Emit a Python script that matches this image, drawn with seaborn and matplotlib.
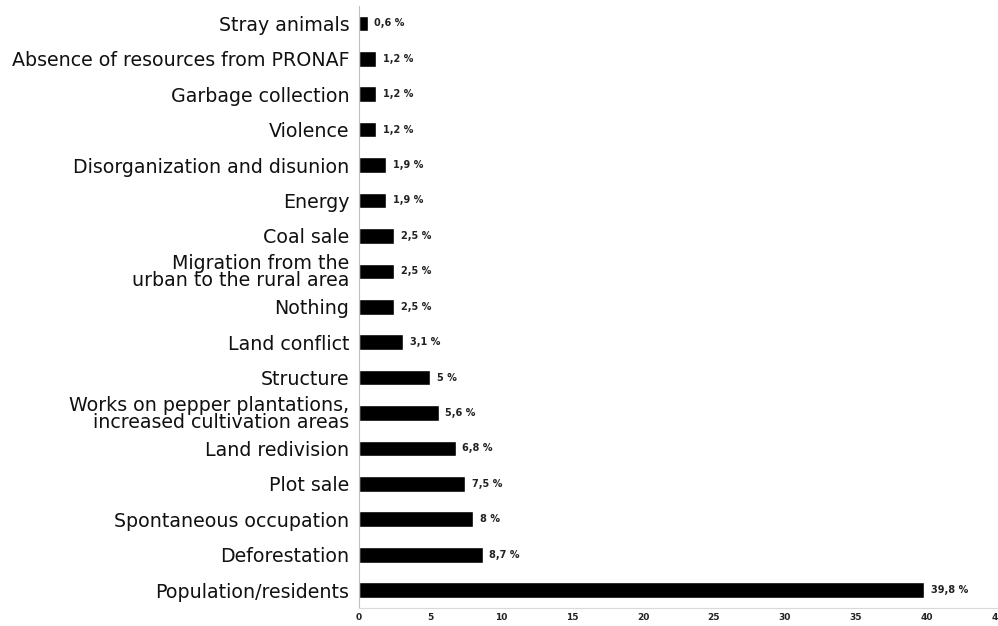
import matplotlib
matplotlib.use("Agg")
import matplotlib.pyplot as plt
import pandas as pd
import seaborn as sns

categorias = [
    "Stray animals",
    "Absence of resources from PRONAF",
    "Garbage collection",
    "Violence",
    "Disorganization and disunion",
    "Energy",
    "Coal sale",
    "Migration from the\nurban to the rural area",
    "Nothing",
    "Land conflict",
    "Structure",
    "Works on pepper plantations,\nincreased cultivation areas",
    "Land redivision",
    "Plot sale",
    "Spontaneous occupation",
    "Deforestation",
    "Population/residents",
]
valores = [0.6, 1.2, 1.2, 1.2, 1.9, 1.9, 2.5, 2.5, 2.5, 3.1, 5, 5.6, 6.8, 7.5, 8, 8.7, 39.8]
etiquetas = ["0,6 %", "1,2 %", "1,2 %", "1,2 %", "1,9 %", "1,9 %", "2,5 %", "2,5 %", "2,5 %",
             "3,1 %", "5 %", "5,6 %", "6,8 %", "7,5 %", "8 %", "8,7 %", "39,8 %"]
ticks_x = [0, 5, 10, 15, 20, 25, 30, 35, 40, 45]

df = pd.DataFrame({"Categoria": categorias, "Valor": valores})

sns.set_theme(style="white")
plt.rcParams["font.family"] = ["DejaVu Sans"]

fig = plt.figure(figsize=(9.98, 6.26), dpi=100)
ax = fig.add_axes([0.3597, 0.029, 0.6403, 0.962])

sns.barplot(data=df, x="Valor", y="Categoria", orient="h", color="black",
            width=0.44, saturation=1, ax=ax)

for i, (v, txt) in enumerate(zip(valores, etiquetas)):
    ax.annotate(txt, xy=(v, i), xytext=(5, 0), textcoords="offset points",
                ha="left", va="center", fontsize=7, fontweight="bold", color="#222222")

# el eje llega a 45 pero la etiqueta queda cortada como en el original
ax.set_xlim(0, 45)
ax.set_xticks(ticks_x)
ax.set_xticklabels([str(t) for t in ticks_x], fontsize=6.5, fontweight="bold", color="#222222")
ax.set_xlabel("")
ax.set_ylabel("")
ax.tick_params(axis="y", labelsize=13.7, colors="#111111", length=0, pad=7)
ax.tick_params(axis="x", length=0, pad=4)
for lbl in ax.get_yticklabels():
    lbl.set_linespacing(0.85)

ax.spines["top"].set_visible(False)
ax.spines["right"].set_visible(False)
ax.spines["left"].set_color("#bfbfbf")
ax.spines["bottom"].set_color("#d9d9d9")
ax.spines["left"].set_linewidth(0.8)
ax.spines["bottom"].set_linewidth(0.8)

fig.savefig("out.png", dpi=100)
